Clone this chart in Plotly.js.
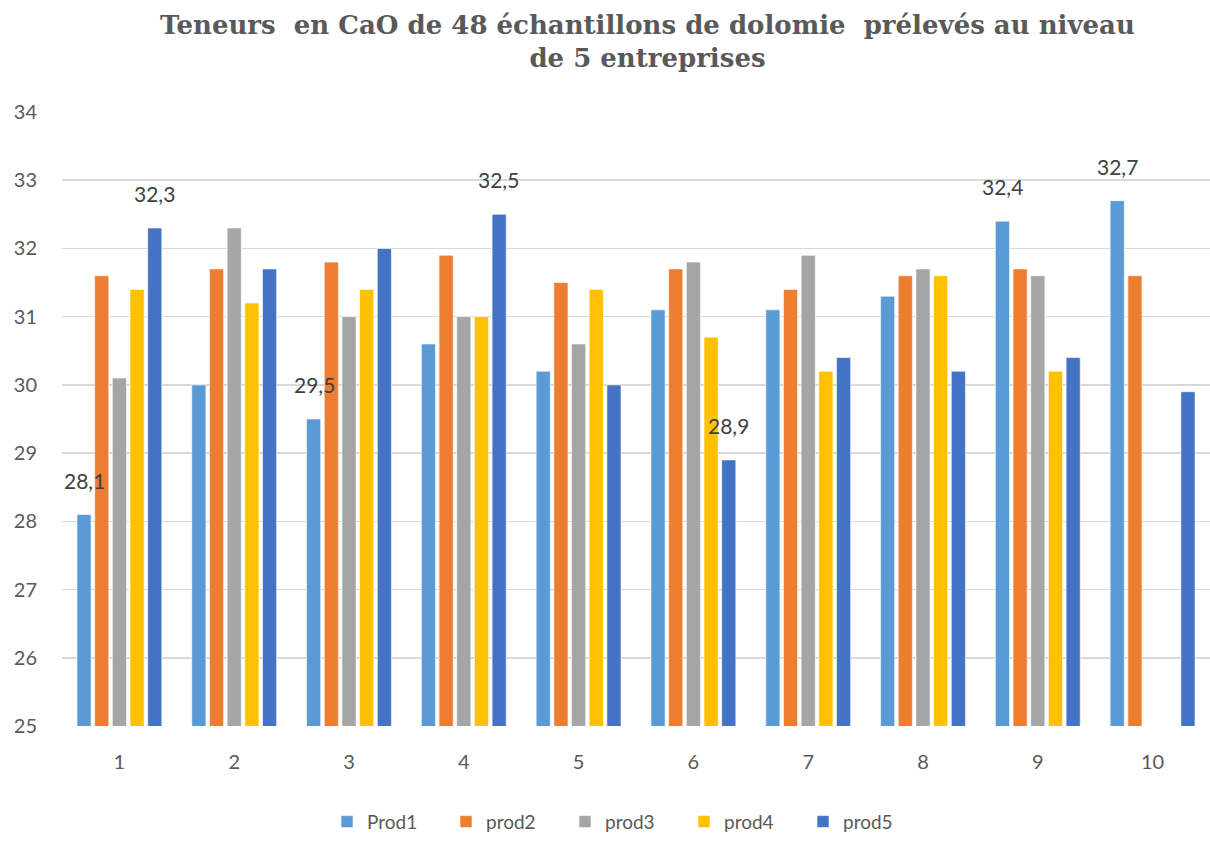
<!DOCTYPE html>
<html>
<head>
<meta charset="utf-8">
<script src="https://cdn.plot.ly/plotly-3.0.1.min.js"></script>
<style>html,body{margin:0;padding:0;background:#fff;}#chart{width:1210px;height:841px;}</style>
</head>
<body>
<div id="chart"></div>
<script>
const categories = ["1","2","3","4","5","6","7","8","9","10"];
const seriesNames = ["Prod1","prod2","prod3","prod4","prod5"];
const prod1 = [28.1, 30.0, 29.5, 30.6, 30.2, 31.1, 31.1, 31.3, 32.4, 32.7];
const prod2 = [31.6, 31.7, 31.8, 31.9, 31.5, 31.7, 31.4, 31.6, 31.7, 31.6];
const prod3 = [30.1, 32.3, 31.0, 31.0, 30.6, 31.8, 31.9, 31.7, 31.6, null];
const prod4 = [31.4, 31.2, 31.4, 31.0, 31.4, 30.7, 30.2, 31.6, 30.2, null];
const prod5 = [32.3, 31.7, 32.0, 32.5, 30.0, 28.9, 30.4, 30.2, 30.4, 29.9];
// which bars carry a value label (1 = labelled)
const prod1Labelled = [1,0,1,0,0,0,0,0,1,1];
const prod5Labelled = [1,0,0,1,0,1,0,0,0,0];
const colors = ["#5B9BD5","#ED7D31","#A5A5A5","#FFC000","#4472C4"];

const allValues = [prod1, prod2, prod3, prod4, prod5];
const labelFlags = [prod1Labelled, null, null, null, prod5Labelled];
const labelShift = [-35, 0, 0, 0, 35];

const fmt = v => v.toFixed(1).replace('.', ',');

const traces = allValues.map((vals, i) => ({
  type: 'bar',
  name: seriesNames[i],
  x: categories,
  y: vals,
  marker: {color: colors[i], line: {color: 'rgba(255,255,255,0.6)', width: 1}},
  hoverinfo: 'x+y'
}));

const annotations = [];
labelFlags.forEach((flags, i) => {
  if (!flags) return;
  allValues[i].forEach((v, k) => {
    if (flags[k] && v != null) {
      annotations.push({
        x: k, y: v, xref: 'x', yref: 'y',
        text: fmt(v), showarrow: false,
        xanchor: 'center', yanchor: 'bottom',
        xshift: labelShift[i], yshift: 20,
        font: {family: 'Lato, "Open Sans", sans-serif', size: 21, color: '#404040'}
      });
    }
  });
});

const layout = {
  width: 1210,
  height: 841,
  paper_bgcolor: '#ffffff',
  plot_bgcolor: '#ffffff',
  margin: {l: 62, r: 0, t: 112, b: 113},
  barmode: 'group',
  bargap: 0.23,
  bargroupgap: 0.2,
  separators: ', ',
  annotations: annotations,
  title: {
    text: 'Teneurs  en CaO de 48 échantillons de dolomie  prélevés au niveau<br>de 5 entreprises',
    font: {family: '"DejaVu Serif", "Liberation Serif", serif', size: 26, color: '#595959', weight: 'bold'},
    x: 0.51,
    xanchor: 'center',
    xref: 'paper',
    y: 0.96,
    yref: 'container',
    yanchor: 'middle'
  },
  xaxis: {
    type: 'category',
    range: [-0.5, 9.5],
    autorange: false,
    showgrid: false,
    zeroline: false,
    showline: false,
    ticks: '',
    tickfont: {family: 'Lato, "Open Sans", sans-serif', size: 20, color: '#595959'},
    ticklabelstandoff: 22
  },
  yaxis: {
    range: [25, 34],
    autorange: false,
    dtick: 1,
    showgrid: true,
    gridcolor: '#d9d9d9',
    gridwidth: 1.5,
    zeroline: false,
    showline: false,
    ticks: '',
    tickfont: {family: 'Lato, "Open Sans", sans-serif', size: 20, color: '#595959'},
    ticklabelstandoff: 24
  },
  showlegend: true,
  legend: {
    orientation: 'h',
    x: 0.49,
    xanchor: 'center',
    y: -0.125,
    yanchor: 'top',
    font: {family: 'Lato, "Open Sans", sans-serif', size: 19, color: '#595959'},
    entrywidth: 74,
    entrywidthmode: 'pixels',
    itemwidth: 30,
    traceorder: 'normal'
  }
};

Plotly.newPlot('chart', traces, layout, {displayModeBar: false, staticPlot: true});
</script>
</body>
</html>
